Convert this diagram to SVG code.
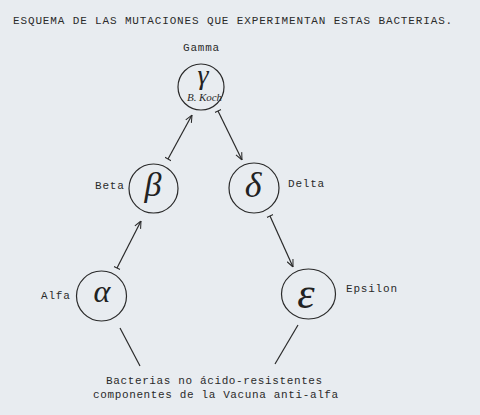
<svg xmlns="http://www.w3.org/2000/svg" width="480" height="415" viewBox="0 0 480 415">
<style>
.bg{fill:#e8ecf0}
.tt{font-family:"Liberation Mono",monospace;font-size:11px;fill:#2a2a2a;letter-spacing:0.8px}
.c{fill:none;stroke:#2a2a2a;stroke-width:1.2}
.g{font-family:"Liberation Serif",serif;font-style:italic;fill:#222;text-anchor:middle}
.ln{stroke:#2a2a2a;stroke-width:1.2;fill:none}
.hw{font-family:"Liberation Serif",serif;font-style:italic;font-size:11px;fill:#2a2a2a}
</style>
<defs>
<marker id="ah" viewBox="0 0 10 10" refX="10" refY="5" markerWidth="8" markerHeight="8" orient="auto" markerUnits="userSpaceOnUse">
<path d="M1,1 L10,5 L1,9" fill="none" stroke="#2a2a2a" stroke-width="1.3"/>
</marker>
<marker id="tk" viewBox="0 0 10 10" refX="5" refY="5" markerWidth="7" markerHeight="7" orient="auto" markerUnits="userSpaceOnUse">
<path d="M5,0 L5,10" fill="none" stroke="#2a2a2a" stroke-width="1.5"/>
</marker>
</defs>
<rect class="bg" x="0" y="0" width="480" height="415"/>
<text class="tt" x="13" y="24" textLength="440">ESQUEMA DE LAS MUTACIONES QUE EXPERIMENTAN ESTAS BACTERIAS.</text>
<g id="gamma">
<text class="tt" x="183" y="51">Gamma</text>
<circle class="c" cx="201" cy="87" r="23"/>
<text class="g" x="203" y="84" font-size="28">γ</text>
<text class="hw" x="187" y="101" textLength="35">B. Koch</text>
</g>
<g id="beta">
<text class="tt" x="95" y="189">Beta</text>
<circle class="c" cx="153.5" cy="188.5" r="24.5"/>
<text class="g" x="153" y="196" font-size="34">β</text>
</g>
<g id="delta">
<text class="tt" x="288" y="187">Delta</text>
<circle class="c" cx="254" cy="188" r="25"/>
<text class="g" x="253" y="197" font-size="36">δ</text>
</g>
<g id="alfa">
<text class="tt" x="41" y="299">Alfa</text>
<circle class="c" cx="101.5" cy="296" r="25"/>
<text class="g" x="102" y="302" font-size="32">α</text>
</g>
<g id="epsilon">
<text class="tt" x="346" y="292">Epsilon</text>
<ellipse class="c" cx="308.5" cy="294" rx="27" ry="25"/>
<text class="g" x="306" y="308" font-size="44">ε</text>
</g>
<g id="connectors">
<line class="ln" x1="117" y1="268" x2="141" y2="221" marker-start="url(#tk)" marker-end="url(#ah)"/>
<line class="ln" x1="168" y1="159" x2="192" y2="115" marker-start="url(#tk)" marker-end="url(#ah)"/>
<line class="ln" x1="218" y1="111" x2="242" y2="160" marker-start="url(#tk)" marker-end="url(#ah)"/>
<line class="ln" x1="270" y1="216" x2="293" y2="267" marker-start="url(#tk)" marker-end="url(#ah)"/>
<line class="ln" x1="120" y1="328" x2="140" y2="366"/>
<line class="ln" x1="298" y1="325" x2="275" y2="364"/>
</g>
<g id="note">
<text class="tt" x="106" y="384" textLength="217">Bacterias no ácido-resistentes</text>
<text class="tt" x="93" y="398" textLength="246">componentes de la Vacuna anti-alfa</text>
</g>
</svg>
